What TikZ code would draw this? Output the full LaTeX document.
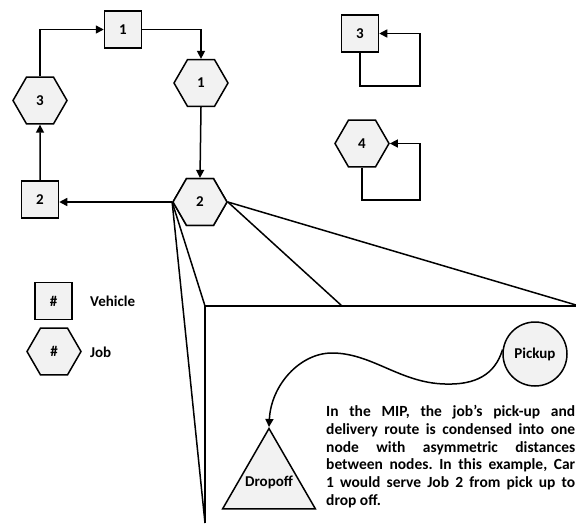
\documentclass[tikz,border=0pt]{standalone}
\usepackage{fontspec}
\setmainfont{Carlito}
\usetikzlibrary{arrows.meta,shapes.geometric}
\definecolor{nodefill}{HTML}{F2F2F2}
\frenchspacing
\begin{document}
\begin{tikzpicture}[x=1pt,y=-1pt,
  every node/.style={font=\bfseries\fontsize{15}{17}\selectfont},
  line/.style={line width=1.5pt},
  arr/.style={line width=1.5pt,-{Triangle[length=8pt,width=8pt]}},
  veh/.style={draw,line width=1.5pt,fill=nodefill,minimum size=37pt,inner sep=0pt},
  job/.style={draw,line width=1.5pt,fill=nodefill,regular polygon,regular polygon sides=6,minimum size=54pt,inner sep=0pt},
  pickup/.style={draw,line width=1.5pt,fill=nodefill,circle,minimum size=64pt,inner sep=0pt},
  dropoff/.style={draw,line width=1.5pt,fill=nodefill,regular polygon,regular polygon sides=3,minimum size=107pt,inner sep=0pt},
  note/.style={anchor=north west,text width=249pt,align=justify,inner sep=0pt,font=\bfseries\fontsize{15.5}{17.8}\selectfont}]
\useasboundingbox (0,0) rectangle (576,523);

% zoom callout: the detail panel and the fan from job 2
\coordinate (boxtl) at (205,306);
\coordinate (boxtr) at (576,306);
\coordinate (boxtm) at (342,306);
\coordinate (boxbl) at (205,523);
\coordinate (fanr) at (576,305);

% route nodes
\node[veh] (v1) at (123,29.5) {1};
\node[veh] (v2) at (40,199.5) {2};
\node[veh] (v3) at (360,33.5) {3};
\node[job] (j1) at (201,83) {1};
\node[job] (j2) at (200,202) {2};
\node[job] (j3) at (40,100.5) {3};
\node[job] (j4) at (362,143.5) {4};

\draw[line] (j2.east) -- (fanr);
\draw[line] (j2.east) -- (boxtm);
\draw[line] (j2.west) -- (boxtl);
\draw[line] (j2.west) -- (boxbl);
\draw[line] (boxtr) -- (boxtl) -- (boxbl);
\node[job] at (j2) {2};

% tour of vehicle 1
\draw[arr] (j3.north) |- (v1.west);
\draw[arr] (v1.east) -| (j1.north);
\draw[arr] (j1.south) -- (j2.north);
\draw[arr] (j2.west) -- (j2.west -| v2.east);
\draw[arr] (v2.north) -- (j3.south);

% idle vehicle and unserved job loop on themselves
\coordinate (l3) at (420,86);
\coordinate (l4) at (420,200);
\draw[arr] (v3.south) |- (l3) |- (v3.east);
\draw[arr] (j4.south) |- (l4) |- (j4.east);

% legend
\node[veh] (lv) at (53.5,301) {\#};
\node[job] (lj) at (54,351.5) {\#};
\node[anchor=west,inner sep=0pt] (lvt) at (90,301) {Vehicle};
\node[anchor=west,inner sep=0pt] (ljt) at (90,352) {Job};

% pick-up and drop-off detail
\node[pickup] (pk) at (535,354) {Pickup};
\node[dropoff] (drop) at (269,482) {};
\node (dropt) at (drop.center) {Dropoff};
\draw[arr] (pk.172) .. controls (495,375) and (475,385) .. (445,384)
  .. controls (400,383) and (372,353) .. (332,353)
  .. controls (300,353) and (271,385) .. (drop.north);

\node[note] (txt) at (326,405) {In the MIP, the job’s pick-up and\linebreak
delivery route is condensed into one\linebreak
node with asymmetric distances\linebreak
between nodes. In this example, Car\linebreak
1 would serve Job 2 from pick up to\linebreak
drop off.};
\end{tikzpicture}
\end{document}
